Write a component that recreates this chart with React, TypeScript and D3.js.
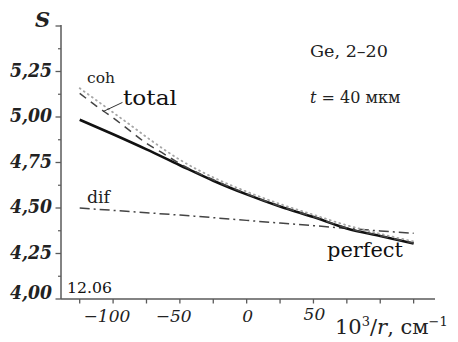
import React from "react";
import * as d3 from "d3";

// Curvature parameter 10^3/r (cm^-1) and S values for each curve
const gridX = [-125, -100, -75, -50, -25, 0, 25, 50, 75, 100, 125];
const perfectS = [4.985, 4.905, 4.822, 4.735, 4.65, 4.575, 4.508, 4.45, 4.388, 4.346, 4.305];
const difS = [4.5, 4.487, 4.474, 4.461, 4.447, 4.432, 4.417, 4.403, 4.388, 4.374, 4.361];

const fineX = [-125, -112.5, -100, -87.5, -75, -62.5, -50, -25, 0, 25, 50, 75, 100, 125];
const totalS = [5.13, 5.06, 4.995, 4.925, 4.855, 4.8, 4.743, 4.655, 4.578, 4.51, 4.452, 4.39, 4.348, 4.307];
const cohS = [5.158, 5.092, 5.025, 4.958, 4.89, 4.825, 4.765, 4.668, 4.59, 4.522, 4.463, 4.405, 4.358, 4.316];

const xTicks = [-125, -100, -75, -50, -25, 0, 25, 50, 75, 100, 125];
const xTickLabels = ["-100", "-50", "0", "50"];
const yMajor = [4, 4.25, 4.5, 4.75, 5, 5.25, 5.5];
const yMinor = [4.125, 4.375, 4.625, 4.875, 5.125, 5.375];
const yTickLabels = ["4,00", "4,25", "4,50", "4,75", "5,00", "5,25"];

const W = 458;
const H = 342;
const FONT = "'DejaVu Serif', serif";
const AXIS = "#5a5a5a";

export default function App() {
  const x = d3.scaleLinear().domain([-139, 141]).range([61, 435]);
  const y = d3.scaleLinear().domain([4, 5.5]).range([299, 26]);

  const line = d3
    .line<[number, number]>()
    .x((d) => x(d[0]))
    .y((d) => y(d[1]))
    .curve(d3.curveMonotoneX);

  const pts = (xs: number[], ys: number[]) => xs.map((v, i) => [v, ys[i]] as [number, number]);

  const digitW = 17 * 0.636;

  return (
    <svg
      width={W}
      height={H}
      viewBox={`0 0 ${W} ${H}`}
      style={{ position: "absolute", left: 0, top: 0, background: "#fff" }}
    >
      {/* axes */}
      <line x1={x(-139)} x2={x(141)} y1={y(4)} y2={y(4)} stroke={AXIS} strokeWidth={1.5} />
      <line x1={x(-139)} x2={x(-139)} y1={y(4)} y2={y(5.5) - 1} stroke={AXIS} strokeWidth={1.5} />

      {xTicks.map((t) => (
        <line key={`xt${t}`} x1={x(t)} x2={x(t)} y1={y(4)} y2={y(4) + 4.5} stroke={AXIS} strokeWidth={1.3} />
      ))}
      {yMajor.map((t) => (
        <line key={`ym${t}`} x1={x(-139) - 5.5} x2={x(-139)} y1={y(t)} y2={y(t)} stroke={AXIS} strokeWidth={1.3} />
      ))}
      {yMinor.map((t) => (
        <line key={`yn${t}`} x1={x(-139) - 3} x2={x(-139)} y1={y(t)} y2={y(t)} stroke={AXIS} strokeWidth={1.2} />
      ))}

      {/* tick labels */}
      {xTickLabels.map((s) => {
        const v = +s;
        const digits = String(Math.abs(v));
        const xr = x(v) + (digits.length * digitW) / 2 + 1;
        return (
          <text
            key={`xl${s}`}
            x={xr}
            y={v > 0 ? 320 : 322}
            textAnchor="end"
            fontFamily={FONT}
            fontStyle="italic"
            fontSize={17}
            fill="#222"
          >
            {v < 0 ? "\u2212" + digits : digits}
          </text>
        );
      })}
      {yTickLabels.map((s, i) => (
        <text
          key={`yl${s}`}
          x={52}
          y={y(yMajor[i]) + (i === 0 ? 0 : 5)}
          textAnchor="end"
          fontFamily={FONT}
          fontStyle="italic"
          fontWeight="bold"
          fontSize={18}
          textLength={42}
          lengthAdjust="spacingAndGlyphs"
          fill="#222"
        >
          {s}
        </text>
      ))}

      {/* axis titles */}
      <text x={35} y={27} fontFamily={FONT} fontStyle="italic" fontWeight="bold" fontSize={21} fill="#222">
        S
      </text>
      <text x={335} y={334} fontFamily={FONT} fontSize={21} fill="#222">
        10
        <tspan dy={-8} fontSize={13}>3</tspan>
        <tspan dy={8}>/</tspan>
        <tspan fontStyle="italic">r</tspan>
        <tspan>, см</tspan>
        <tspan dy={-8} fontSize={13}>−1</tspan>
      </text>

      {/* curves */}
      <path d={line(pts(gridX, difS)) || ""} fill="none" stroke="#444" strokeWidth={1.5} strokeDasharray="10 4 2 4" />
      <path d={line(pts(gridX, perfectS)) || ""} fill="none" stroke="#111" strokeWidth={2.6} />
      <path
        d={line(pts(fineX, cohS)) || ""}
        fill="none"
        stroke="#a5a5a5"
        strokeWidth={1.8}
        strokeDasharray="1 4"
        strokeLinecap="round"
      />
      <path d={line(pts(fineX, totalS)) || ""} fill="none" stroke="#444" strokeWidth={1.5} strokeDasharray="8 6" />

      {/* curve labels */}
      <line x1={x(-107.5)} y1={y(5.03)} x2={x(-93)} y2={y(5.08)} stroke="#333" strokeWidth={1} />
      <text x={123} y={105} fontFamily={FONT} fontSize={20} textLength={54} lengthAdjust="spacingAndGlyphs" fill="#111">
        total
      </text>
      <text x={87} y={83} fontFamily={FONT} fontSize={15} textLength={28} lengthAdjust="spacingAndGlyphs" fill="#222">
        coh
      </text>
      <text x={87} y={203} fontFamily={FONT} fontSize={16} textLength={23} lengthAdjust="spacingAndGlyphs" fill="#222">
        dif
      </text>
      <text x={327} y={257} fontFamily={FONT} fontSize={20} textLength={76} lengthAdjust="spacingAndGlyphs" fill="#111">
        perfect
      </text>

      {/* annotations */}
      <text x={67} y={293} fontFamily={FONT} fontSize={15.5} textLength={45} lengthAdjust="spacingAndGlyphs" fill="#111">
        12.06
      </text>
      <text x={310} y={57} fontFamily={FONT} fontSize={16} textLength={78} lengthAdjust="spacingAndGlyphs" fill="#222">
        Ge, 2–20
      </text>
      <text x={310} y={103} fontFamily={FONT} fontSize={16} fill="#222">
        <tspan fontStyle="italic">t</tspan>
        {" = 40 мкм"}
      </text>
    </svg>
  );
}
